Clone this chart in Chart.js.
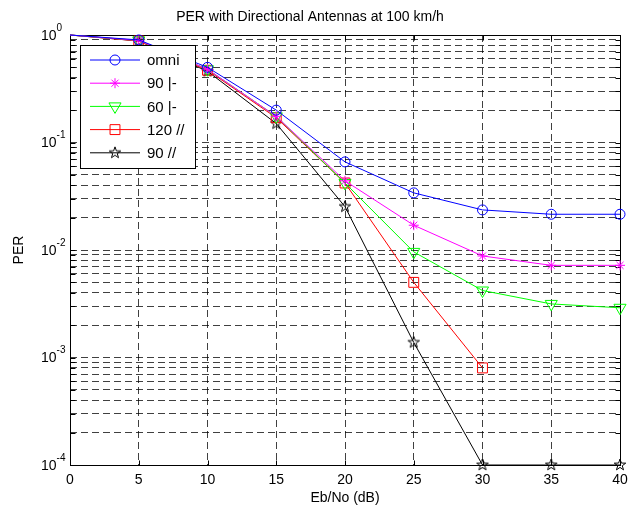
<!DOCTYPE html>
<html lang="en">
<head>
    <meta charset="UTF-8">
    <title>PER with Directional Antennas at 100 km/h</title>
    <script src="https://cdn.jsdelivr.net/npm/chart.js"></script>
    <style>
        body { margin: 0; background: #fff; }
        canvas { display: block; }
    </style>
</head>
<body>
<canvas id="perChart" width="638" height="511"></canvas>

<script>
// values
const ebno = [0, 5, 10, 15, 20, 25, 30, 35, 40];
const perOmni = [1.0, 0.90, 0.50, 0.20, 0.066, 0.034, 0.0236, 0.0215, 0.0215];
const per90Perp = [1.0, 0.89, 0.48, 0.175, 0.044, 0.017, 0.0088, 0.0072, 0.0072];
const per60Perp = [1.0, 0.89, 0.48, 0.175, 0.042, 0.0096, 0.0042, 0.00315, 0.0029];
const per120Par = [1.0, 0.88, 0.47, 0.17, 0.042, 0.0050, 0.0008];
const per90Par = [1.0, 0.88, 0.46, 0.15, 0.0253, 0.00138, 0.0001, 0.0001, 0.0001];
const seriesNames = ['omni', '90 |-', '60 |-', '120 //', '90 //'];

const xTicks = [0, 5, 10, 15, 20, 25, 30, 35, 40];
const yDecades = [1e-4, 1e-3, 1e-2, 1e-1, 1];

const FONT = "'Liberation Sans', Arial, Helvetica, sans-serif";

// matlab 'p' marker (pentagram), chart.js has none
function makePentagram(r, color) {
    const size = 2 * Math.ceil(r + 2);
    const c = document.createElement('canvas');
    c.width = size;
    c.height = size;
    const g = c.getContext('2d');
    g.strokeStyle = color;
    g.lineWidth = 1;
    g.beginPath();
    for (let i = 0; i < 10; i++) {
        const rad = i % 2 === 0 ? r : r * 0.4;
        const a = -Math.PI / 2 + i * Math.PI / 5;
        const px = size / 2 + rad * Math.cos(a);
        const py = size / 2 + rad * Math.sin(a);
        if (i === 0) g.moveTo(px, py); else g.lineTo(px, py);
    }
    g.closePath();
    g.stroke();
    return c;
}

function toPoints(vals) {
    return vals.map((v, i) => ({ x: ebno[i], y: v }));
}

function series(label, vals, color, style, radius, rotation) {
    return {
        label: label,
        data: toPoints(vals),
        borderColor: color,
        borderWidth: 1,
        pointStyle: style,
        // the 0 dB marker sits on the top edge and is clipped in the original
        pointRadius: vals.map((v, i) => (i === 0 ? 0 : radius)),
        markerRadius: radius,
        pointRotation: rotation || 0,
        pointBorderColor: color,
        pointBackgroundColor: 'rgba(0,0,0,0)',
        pointBorderWidth: 1,
        tension: 0,
        clip: false
    };
}

const datasets = [
    series(seriesNames[0], perOmni, '#0000ff', 'circle', 5),
    series(seriesNames[1], per90Perp, '#ff00ff', 'star', 5),
    series(seriesNames[2], per60Perp, '#00ff00', 'triangle', 7, 180),
    series(seriesNames[3], per120Par, '#ff0000', 'rect', 7),
    series(seriesNames[4], per90Par, '#000000', makePentagram(6, '#000000'), 6)
];

// minor log grid: 1..9 per decade
function logTicks() {
    const out = [];
    yDecades.forEach((d, i) => {
        if (i === yDecades.length - 1) { out.push({ value: d }); return; }
        for (let m = 1; m < 10; m++) out.push({ value: m * d });
    });
    return out;
}

const matlabAxes = {
    id: 'matlabAxes',
    beforeDatasetsDraw(chart) {
        const { ctx, chartArea: a, scales } = chart;
        const L = Math.round(a.left) + 0.5, R = Math.round(a.right) + 0.5;
        const T = Math.round(a.top) + 0.5, B = Math.round(a.bottom) + 0.5;
        ctx.save();
        ctx.strokeStyle = '#000';
        ctx.lineWidth = 1;
        ctx.beginPath();
        scales.x.ticks.forEach(t => {
            const x = Math.round(scales.x.getPixelForValue(t.value)) + 0.5;
            ctx.moveTo(x, B); ctx.lineTo(x, B - 5);
            ctx.moveTo(x, T); ctx.lineTo(x, T + 5);
        });
        scales.y.ticks.forEach(t => {
            const y = Math.round(scales.y.getPixelForValue(t.value)) + 0.5;
            ctx.moveTo(L, y); ctx.lineTo(L + 5, y);
            ctx.moveTo(R, y); ctx.lineTo(R - 5, y);
        });
        ctx.stroke();
        ctx.strokeRect(L, T, R - L, B - T);
        ctx.restore();
    },
    afterDraw(chart) {
        const { ctx, scales } = chart;
        ctx.save();
        ctx.fillStyle = '#000';

        // y labels as 10^n
        yDecades.forEach(d => {
            const y = scales.y.getPixelForValue(d);
            const exp = Math.round(Math.log10(d));
            ctx.font = '14px ' + FONT;
            ctx.textBaseline = 'middle';
            ctx.textAlign = 'left';
            ctx.fillText('10', 41, y + 1);
            const w = ctx.measureText('10').width;
            ctx.font = '10px ' + FONT;
            ctx.fillText(String(exp), 41 + w, y - 7);
        });

        // legend box inside the axes
        const bx = 80.5, by = 45.5, bw = 115, bh = 123;
        ctx.fillStyle = '#fff';
        ctx.fillRect(bx, by, bw, bh);
        ctx.strokeStyle = '#000';
        ctx.lineWidth = 1;
        ctx.strokeRect(bx, by, bw, bh);

        chart.data.datasets.forEach((ds, i) => {
            const y = 60 + i * 23.2;
            ctx.strokeStyle = ds.borderColor;
            ctx.lineWidth = 1;
            ctx.beginPath();
            ctx.moveTo(90, y);
            ctx.lineTo(140, y);
            ctx.stroke();
            ctx.fillStyle = 'rgba(0,0,0,0)';
            Chart.helpers.drawPoint(ctx, {
                pointStyle: ds.pointStyle,
                rotation: ds.pointRotation,
                radius: ds.markerRadius,
                borderWidth: 1
            }, 115, y);
            ctx.fillStyle = '#000';
            ctx.font = '15px ' + FONT;
            ctx.textBaseline = 'middle';
            ctx.textAlign = 'left';
            ctx.fillText(ds.label, 147, y + 1);
        });
        ctx.restore();
    }
};

const gridStyle = { color: 'rgba(0,0,0,0.75)', lineWidth: 1, drawTicks: false, tickLength: 0 };

new Chart(document.getElementById('perChart'), {
    type: 'line',
    data: { datasets: datasets },
    options: {
        responsive: false,
        animation: false,
        events: [],
        layout: { padding: { top: 0, right: 18, bottom: 0, left: 0 } },
        plugins: {
            legend: { display: false },
            tooltip: { enabled: false },
            title: {
                display: true,
                text: 'PER with Directional Antennas at 100 km/h',
                color: '#000',
                font: { family: FONT, size: 14, weight: 'normal' },
                padding: { top: 9, bottom: 9.2 }
            }
        },
        scales: {
            x: {
                type: 'linear',
                min: 0,
                max: 40,
                afterBuildTicks: s => { s.ticks = xTicks.map(v => ({ value: v })); },
                afterFit: s => { s.height = 46; },
                ticks: { color: '#000', font: { family: FONT, size: 14 }, padding: 7, maxRotation: 0, autoSkip: false },
                grid: gridStyle,
                border: { display: false, dash: [7, 4] },
                title: {
                    display: true,
                    text: 'Eb/No (dB)',
                    color: '#000',
                    font: { family: FONT, size: 14 },
                    padding: { top: 0, bottom: 4 }
                }
            },
            y: {
                type: 'logarithmic',
                min: 1e-4,
                max: 1,
                afterBuildTicks: s => { s.ticks = logTicks(); },
                afterFit: s => { s.width = 70; },
                ticks: { callback: () => '', autoSkip: false, padding: 0 },
                grid: gridStyle,
                border: { display: false, dash: [7, 4] },
                title: {
                    display: true,
                    text: 'PER',
                    color: '#000',
                    font: { family: FONT, size: 14 },
                    padding: { top: 11, bottom: 0 }
                }
            }
        }
    },
    plugins: [matlabAxes]
});
</script>
</body>
</html>
